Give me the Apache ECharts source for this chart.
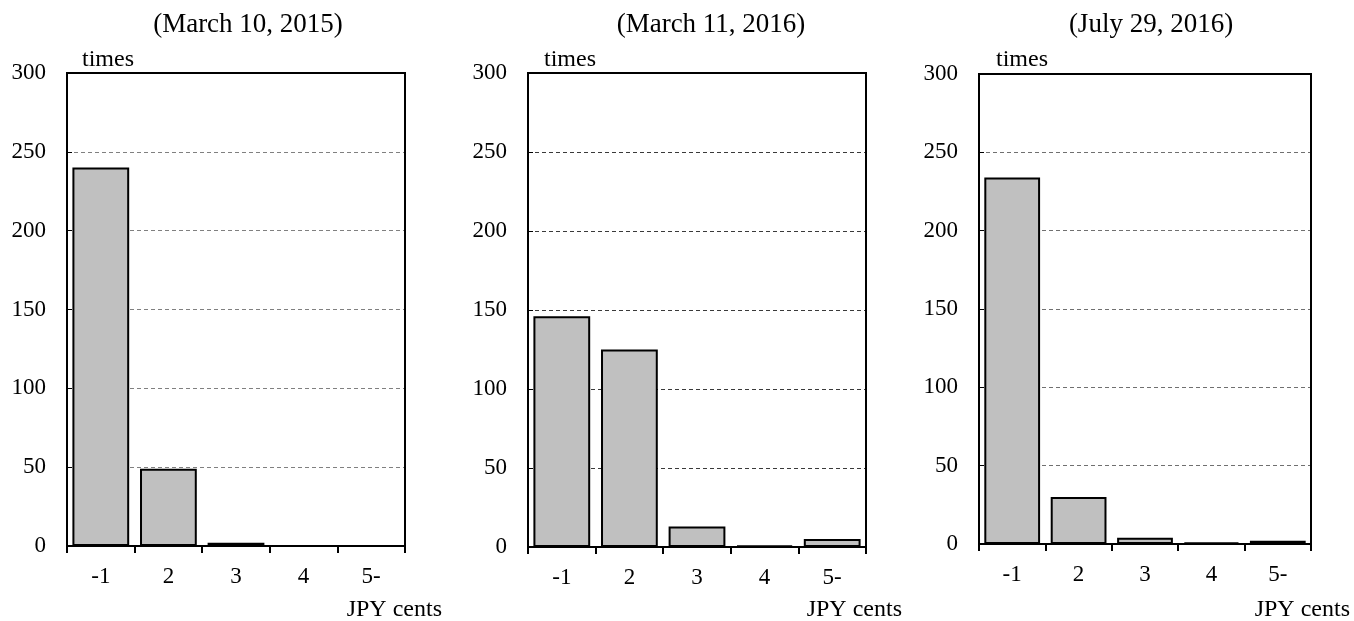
<!DOCTYPE html>
<html>
<head>
<meta charset="utf-8">
<script src="https://cdn.jsdelivr.net/npm/echarts@6/dist/echarts.min.js"></script>
<style>
  html, body { margin: 0; padding: 0; background: #fff; }
  #chart { width: 1354px; height: 621px; }
</style>
</head>
<body>
<div id="chart"></div>
<script>
// Distribution of price changes (JPY cents) on three dates
const categories = ['-1', '2', '3', '4', '5-'];
const yTicks = [0, 50, 100, 150, 200, 250, 300];
const panelTitles = ['(March 10, 2015)', '(March 11, 2016)', '(July 29, 2016)'];
const march2015 = [240, 49, 2, 0, 0];
const march2016 = [146, 125, 13, 1, 5];
const july2016 = [234, 30, 4, 1, 2];

const panels = [march2015, march2016, july2016];
const FONT = '"Liberation Serif", "Times New Roman", serif';

// panel geometry
const boxes = [
  { left: 67, top: 73, width: 338, height: 473, grid: '#808080', titleX: 248, timesX: 82, unitX: 442 },
  { left: 528, top: 73, width: 338, height: 474, grid: '#3a3a3a', titleX: 711, timesX: 544, unitX: 902 },
  { left: 979, top: 74, width: 332, height: 470, grid: '#707070', titleX: 1151, timesX: 996, unitX: 1350 }
];

const grids = [], xAxes = [], yAxes = [], series = [], graphics = [];
boxes.forEach((b, i) => {
  grids.push({
    left: b.left, top: b.top, width: b.width, height: b.height,
    show: true, borderColor: '#000', borderWidth: 2, backgroundColor: 'transparent', z: 5
  });
  xAxes.push({
    type: 'category', gridIndex: i, data: categories, boundaryGap: true,
    axisLine: { lineStyle: { color: '#000', width: 2 } },
    axisTick: { show: true, length: 7, inside: false, lineStyle: { color: '#000', width: 2 } },
    axisLabel: { color: '#000', fontFamily: FONT, fontSize: 23, margin: 19 },
    splitLine: { show: false }
  });
  yAxes.push({
    type: 'value', gridIndex: i, min: yTicks[0], max: yTicks[yTicks.length - 1], interval: 50,
    axisLine: { show: true, lineStyle: { color: '#000', width: 2 } },
    axisTick: { show: true, inside: true, length: 5, lineStyle: { color: '#000', width: 1 } },
    axisLabel: { color: '#000', fontFamily: FONT, fontSize: 23, margin: 21 },
    splitLine: { show: true, showMinLine: false, showMaxLine: false, lineStyle: { color: b.grid, width: 1, type: [4, 3] } }
  });
  series.push({
    type: 'bar', xAxisIndex: i, yAxisIndex: i, data: panels[i],
    barWidth: '84%',
    itemStyle: { color: '#c0c0c0', borderColor: '#000', borderWidth: 2 },
    z: 1
  });
  graphics.push(
    { x: b.titleX, y: 25, style: { text: panelTitles[i], font: '27px ' + FONT, fill: '#000', textAlign: 'center', textVerticalAlign: 'middle' } },
    { x: b.timesX, y: 60, style: { text: 'times', font: '24px ' + FONT, fill: '#000', textAlign: 'left', textVerticalAlign: 'middle' } },
    { x: b.unitX, y: 610, style: { text: 'JPY cents', font: '24px ' + FONT, fill: '#000', textAlign: 'right', textVerticalAlign: 'middle' } }
  );
});

const chart = echarts.init(document.getElementById('chart'), null, { renderer: 'canvas' });
chart.setOption({
  animation: false,
  backgroundColor: '#fff',
  grid: grids,
  xAxis: xAxes,
  yAxis: yAxes,
  series: series,
  graphic: graphics.map(g => ({ type: 'text', x: g.x, y: g.y, style: g.style }))
});
</script>
</body>
</html>
